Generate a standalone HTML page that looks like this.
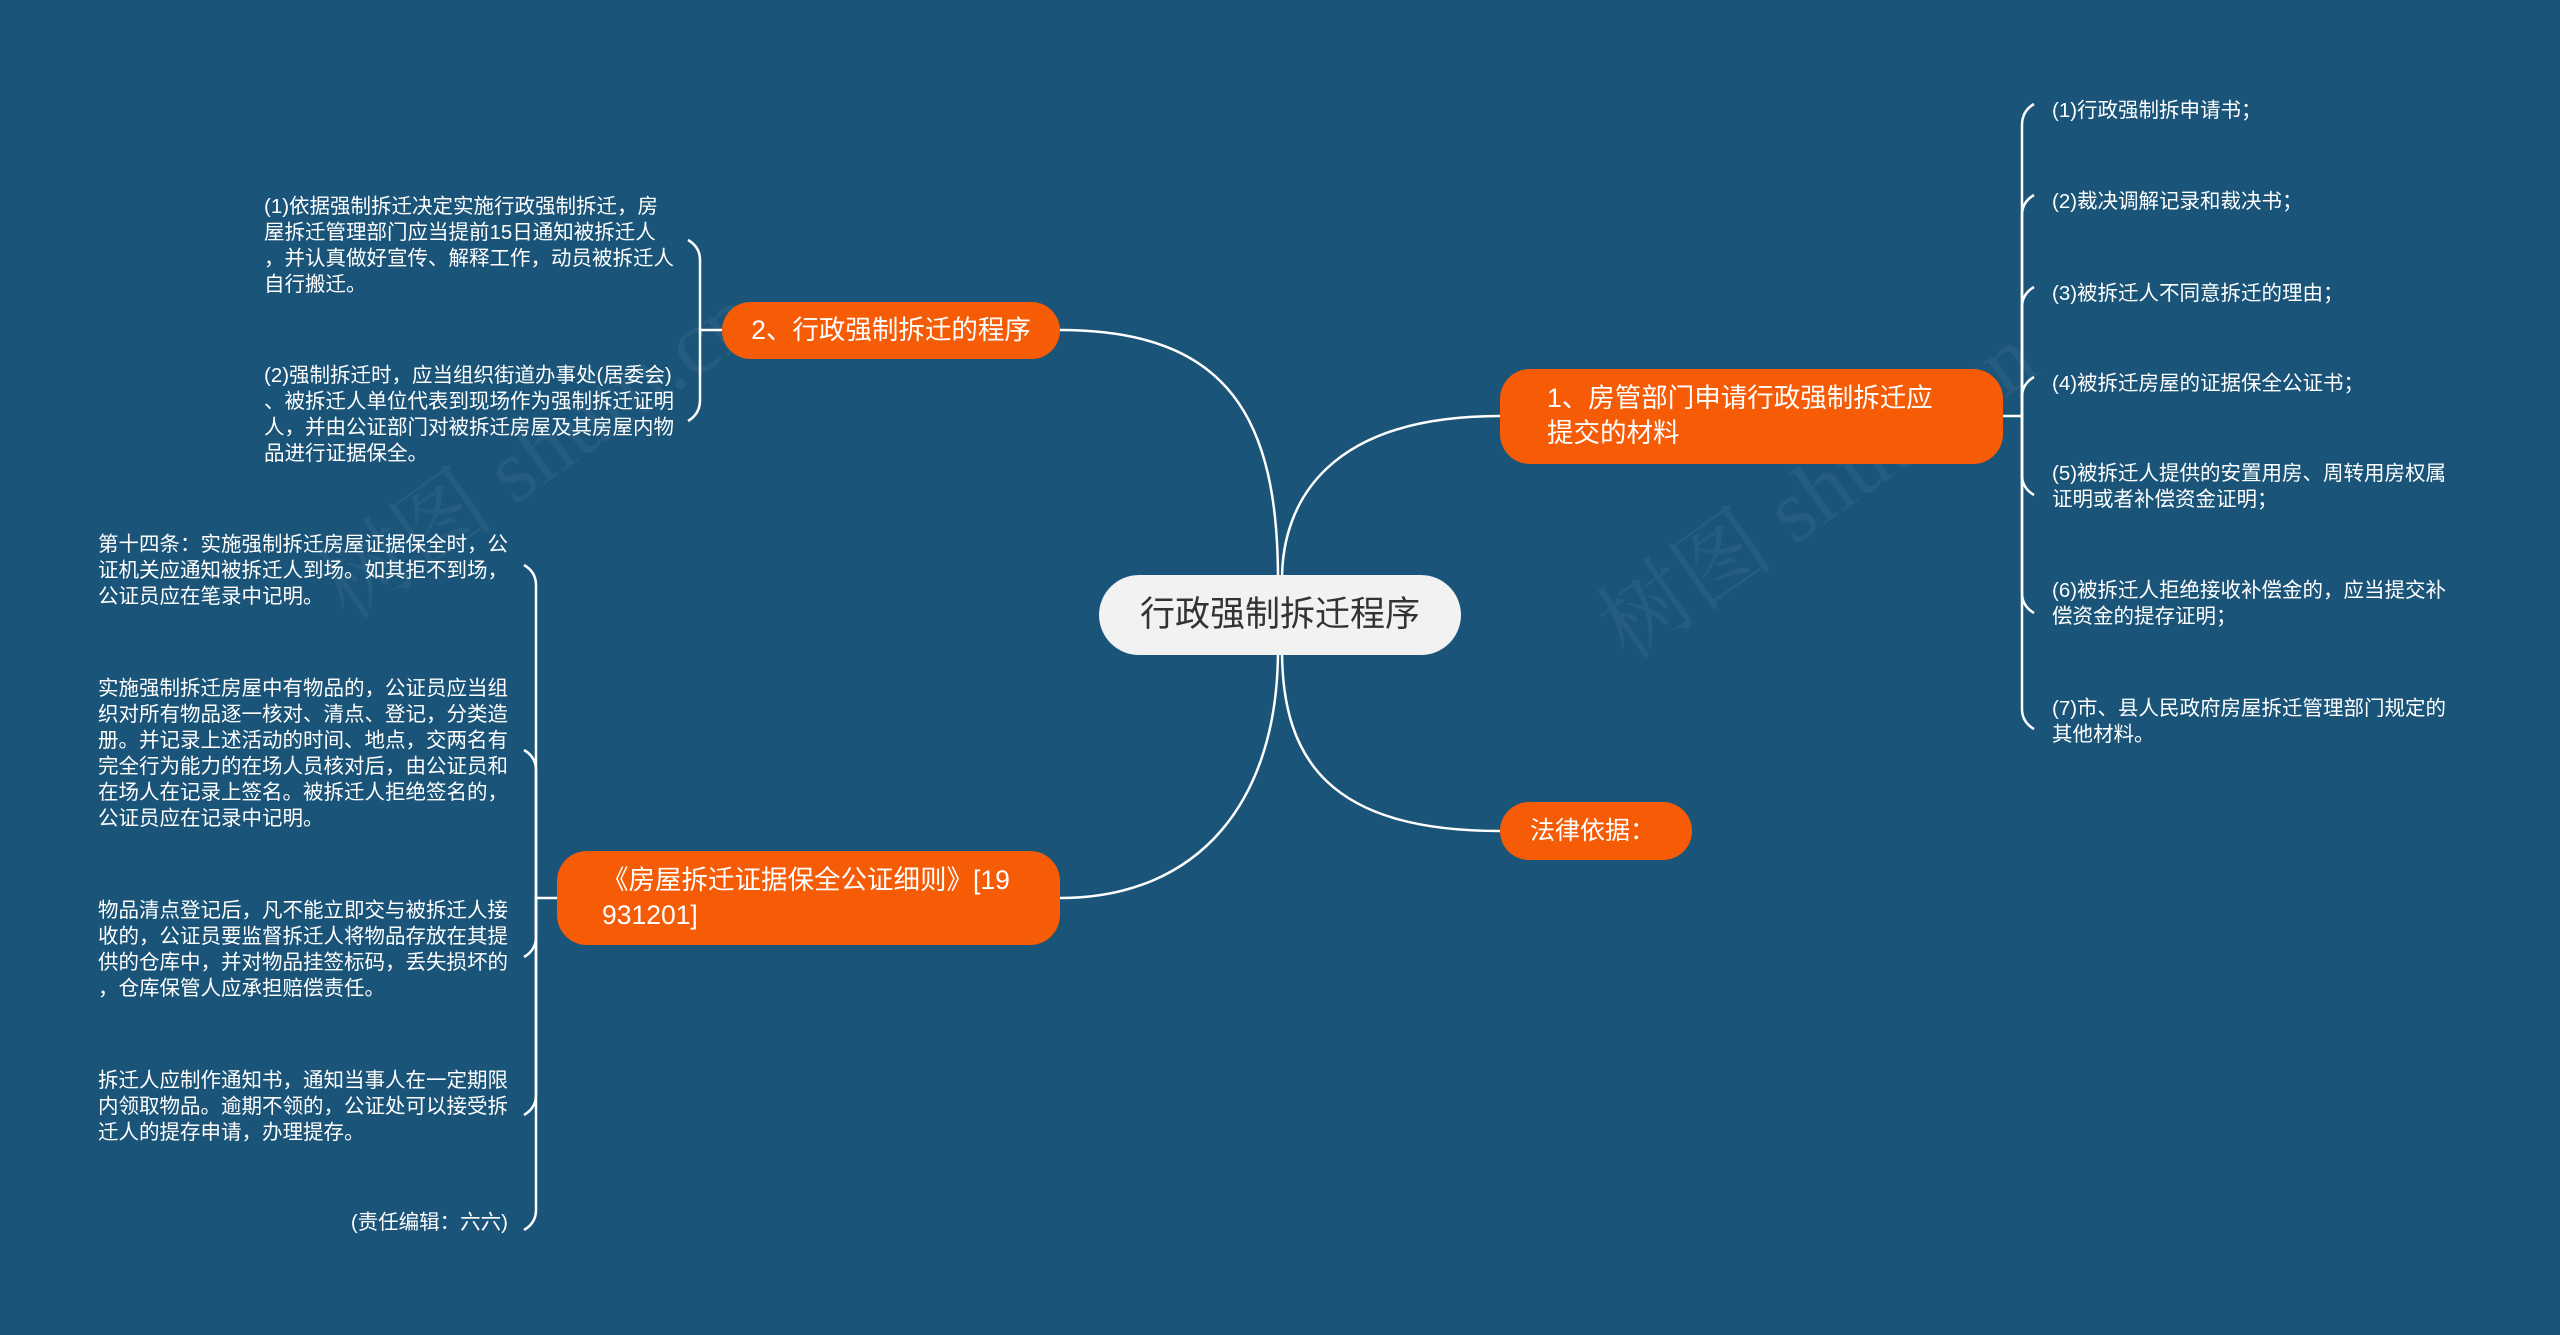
<!DOCTYPE html>
<html><head><meta charset="utf-8"><style>
html,body{margin:0;padding:0}
body{width:2560px;height:1335px;background:#1a5479;position:relative;overflow:hidden;font-family:"Liberation Sans","Noto Sans CJK SC",sans-serif}
.t{position:absolute;color:#fff;font-size:20.5px;line-height:26px;white-space:nowrap}
.n{position:absolute;background:#f65b06;color:#fff;border-radius:30px;box-sizing:border-box;white-space:nowrap}
.wm{position:absolute;color:rgba(255,255,255,0.05);font-size:90px;font-family:"Liberation Serif","Noto Serif CJK SC",serif;transform:rotate(-35deg);white-space:nowrap}
</style></head><body>
<div class="wm" style="left:280px;top:380px">树图 shutu.cn</div>
<div class="wm" style="left:1560px;top:420px">树图 shutu.cn</div>
<svg width="2560" height="1335" style="position:absolute;left:0;top:0" fill="none" stroke="#fff" stroke-width="2.5">
<path d="M1278 580 C1278 420 1230 330 1060 330"/>
<path d="M1282 580 C1282 500 1330 416 1500 416"/>
<path d="M1282 650 C1282 760 1330 831 1500 831"/>
<path d="M1278 650 C1278 800 1200 898 1060 898"/>
<path d="M2003 416 L2022 416"/>
<path d="M2022 416 L2022 125 Q2022 111 2034 104"/>
<path d="M2022 416 L2022 215 Q2022 202 2034 195"/>
<path d="M2022 416 L2022 307 Q2022 294 2034 287"/>
<path d="M2022 416 L2022 397 Q2022 384 2034 377"/>
<path d="M2022 416 L2022 475 Q2022 488 2034 495"/>
<path d="M2022 416 L2022 593 Q2022 606 2034 613"/>
<path d="M2022 416 L2022 709 Q2022 722 2034 729"/>
<path d="M722 330 L700 330"/>
<path d="M700 330 L700 260 Q700 247 688 240"/>
<path d="M700 330 L700 400 Q700 414 688 421"/>
<path d="M557 898 L536 898"/>
<path d="M536 898 L536 585 Q536 572 524 565"/>
<path d="M536 898 L536 770 Q536 757 524 750"/>
<path d="M536 898 L536 937 Q536 950 524 957"/>
<path d="M536 898 L536 1095 Q536 1108 524 1115"/>
<path d="M536 898 L536 1210 Q536 1223 524 1230"/>
</svg>
<div style="position:absolute;left:1099px;top:575px;width:362px;height:80px;background:#f2f2f2;border-radius:40px;color:#333;font-size:35px;line-height:80px;text-align:center">行政强制拆迁程序</div>
<div class="n" style="left:722px;top:302px;width:338px;height:57px;font-size:26.5px;line-height:57px;text-align:center">2、行政强制拆迁的程序</div>
<div class="n" style="left:1500px;top:369px;width:503px;height:95px;font-size:26.5px;line-height:35px;padding:12px 0 0 47px">1、房管部门申请行政强制拆迁应<br>提交的材料</div>
<div class="n" style="left:1500px;top:802px;width:192px;height:58px;font-size:25px;line-height:58px;padding-left:30px">法律依据：</div>
<div class="n" style="left:557px;top:851px;width:503px;height:94px;font-size:26.5px;line-height:35px;padding:12px 0 0 45px">《房屋拆迁证据保全公证细则》[19<br>931201]</div>

<div class="t" style="left:2052px;top:98px">(1)行政强制拆申请书；</div>
<div class="t" style="left:2052px;top:189px">(2)裁决调解记录和裁决书；</div>
<div class="t" style="left:2052px;top:281px">(3)被拆迁人不同意拆迁的理由；</div>
<div class="t" style="left:2052px;top:371px">(4)被拆迁房屋的证据保全公证书；</div>
<div class="t" style="left:2052px;top:461px">(5)被拆迁人提供的安置用房、周转用房权属<br>证明或者补偿资金证明；</div>
<div class="t" style="left:2052px;top:578px">(6)被拆迁人拒绝接收补偿金的，应当提交补<br>偿资金的提存证明；</div>
<div class="t" style="left:2052px;top:696px">(7)市、县人民政府房屋拆迁管理部门规定的<br>其他材料。</div>

<div class="t" style="left:264px;top:194px">(1)依据强制拆迁决定实施行政强制拆迁，房<br>屋拆迁管理部门应当提前15日通知被拆迁人<br>，并认真做好宣传、解释工作，动员被拆迁人<br>自行搬迁。</div>
<div class="t" style="left:264px;top:363px">(2)强制拆迁时，应当组织街道办事处(居委会)<br>、被拆迁人单位代表到现场作为强制拆迁证明<br>人，并由公证部门对被拆迁房屋及其房屋内物<br>品进行证据保全。</div>

<div class="t" style="left:98px;top:532px">第十四条：实施强制拆迁房屋证据保全时，公<br>证机关应通知被拆迁人到场。如其拒不到场，<br>公证员应在笔录中记明。</div>
<div class="t" style="left:98px;top:676px">实施强制拆迁房屋中有物品的，公证员应当组<br>织对所有物品逐一核对、清点、登记，分类造<br>册。并记录上述活动的时间、地点，交两名有<br>完全行为能力的在场人员核对后，由公证员和<br>在场人在记录上签名。被拆迁人拒绝签名的，<br>公证员应在记录中记明。</div>
<div class="t" style="left:98px;top:898px">物品清点登记后，凡不能立即交与被拆迁人接<br>收的，公证员要监督拆迁人将物品存放在其提<br>供的仓库中，并对物品挂签标码，丢失损坏的<br>，仓库保管人应承担赔偿责任。</div>
<div class="t" style="left:98px;top:1068px">拆迁人应制作通知书，通知当事人在一定期限<br>内领取物品。逾期不领的，公证处可以接受拆<br>迁人的提存申请，办理提存。</div>
<div class="t" style="left:98px;top:1210px;width:410px;text-align:right">(责任编辑：六六)</div>
</body></html>
